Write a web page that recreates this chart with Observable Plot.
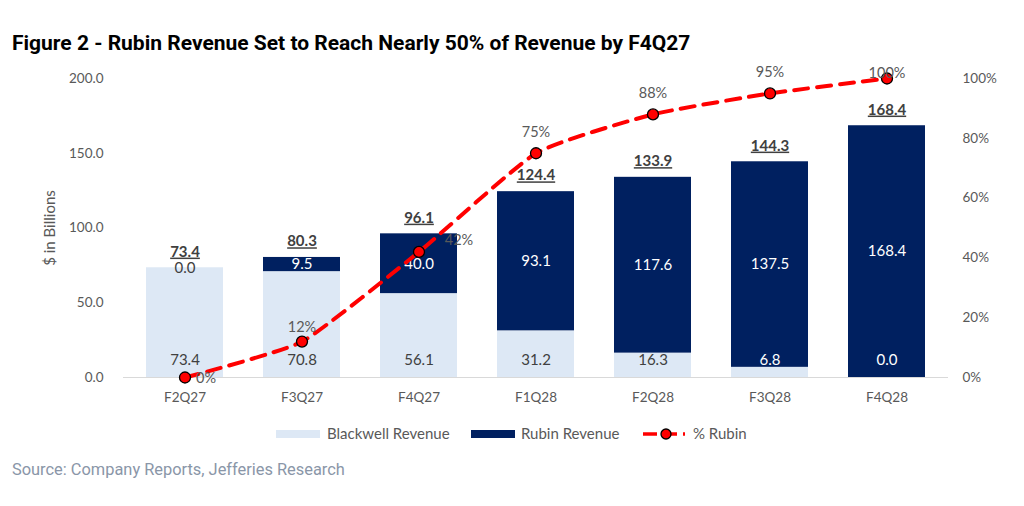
<!DOCTYPE html>
<html>
<head>
<meta charset="utf-8">
<script src="https://cdn.jsdelivr.net/npm/d3@7"></script>
<script src="https://cdn.jsdelivr.net/npm/@observablehq/plot@0.6"></script>
<style>
  body { margin: 0; width: 1024px; height: 506px; background: #fff; position: relative; overflow: hidden; font-family: Lato, "Open Sans", sans-serif; }
  #title { position: absolute; left: 12px; top: 31px; font-family: Roboto, sans-serif; font-weight: 700; font-size: 21px; color: #000; white-space: nowrap; }
  #chart { position: absolute; left: 0; top: 60px; }
  #legend { position: absolute; left: 0; top: 424px; width: 1024px; height: 20px; }
  #source { position: absolute; left: 12px; top: 460px; font-family: Roboto, sans-serif; font-size: 16.4px; color: #8a96a8; white-space: nowrap; }
  .totals text { text-decoration: underline; }
</style>
</head>
<body>
<div id="title">Figure 2 - Rubin Revenue Set to Reach Nearly 50% of Revenue by F4Q27</div>
<div id="chart"></div>
<div id="legend"></div>
<div id="source">Source: Company Reports, Jefferies Research</div>
<script>
const quarters = ["F2Q27", "F3Q27", "F4Q27", "F1Q28", "F2Q28", "F3Q28", "F4Q28"];
const blackwell = [73.4, 70.8, 56.1, 31.2, 16.3, 6.8, 0.0];
const rubin = [0.0, 9.5, 40.0, 93.1, 117.6, 137.5, 168.4];
const totals = [73.4, 80.3, 96.1, 124.4, 133.9, 144.3, 168.4];
const pctRubin = [0, 12, 42, 75, 88, 95, 100];
const leftTicks = [0, 50, 100, 150, 200];
const rightTicks = [0, 20, 40, 60, 80, 100];
const seriesNames = ["Blackwell Revenue", "Rubin Revenue", "% Rubin"];

const C_BW = "#dde8f5", C_RU = "#002060", C_TXT = "#404040", C_AX = "#595959", C_LINE = "#ff0000";

// stacked table
const stacked = [];
quarters.forEach((q, i) => {
  stacked.push({q, series: seriesNames[0], value: blackwell[i]});
  stacked.push({q, series: seriesNames[1], value: rubin[i]});
});
const pctData = quarters.map((q, i) => ({q, pct: pctRubin[i], y: pctRubin[i] * 2}));
// label placement per point (Excel-like)
const pctLabelPos = {"F2Q27": [21, 1], "F4Q27": [40, -12], "F3Q27": [0, -14], "F4Q28": [0, -5]};
const pctLabelData = pctData.map(d => {
  const p = pctLabelPos[d.q] || [0, -21];
  return {...d, dx: p[0], dy: p[1]};
});

const stackedY = Plot.stackY({x: "q", y: "value", fill: "series", order: seriesNames});
const blackwellRows = quarters.map((q, i) => ({q, value: blackwell[i]}));
const rubinRows = quarters.map((q, i) => ({q, value: rubin[i], mid: blackwell[i] + rubin[i] / 2}));
const totalRows = quarters.map((q, i) => ({q, value: totals[i]}));

const fmt1 = d3.format(".1f");

const chart = Plot.plot({
  width: 1024,
  height: 350,
  marginTop: 18,
  marginBottom: 33,
  marginLeft: 123,
  marginRight: 76,
  style: {fontFamily: "Lato, 'Open Sans', sans-serif", fontSize: "13px", color: C_AX, background: "white"},
  x: {domain: quarters, paddingInner: 0.34, paddingOuter: 0.17, label: null},
  y: {domain: [0, 200], label: null},
  color: {domain: seriesNames.slice(0, 2), range: [C_BW, C_RU]},
  marks: [
    Plot.barY(stacked, stackedY),
    Plot.ruleY([0], {stroke: "#d9d9d9", strokeWidth: 1.2}),
    // Blackwell labels (inside base)
    Plot.text(blackwellRows, {x: "q", y: 0, text: d => fmt1(d.value), dy: -17,
      fill: d => d.value < 10 ? "white" : C_TXT, fontSize: 15}),
    // Rubin labels (centered)
    Plot.text(rubinRows, {x: "q", y: "mid", text: d => fmt1(d.value),
      fill: d => d.value === 0 ? C_TXT : "white", fontSize: 15}),
    // totals
    Plot.text(totalRows, {x: "q", y: "value", text: d => fmt1(d.value), dy: -16,
      fill: C_TXT, fontWeight: "bold", fontSize: 15, className: "totals"}),
    // % Rubin line
    Plot.line(pctData, {x: "q", y: "y", stroke: C_LINE, strokeWidth: 4, strokeDasharray: "14,9", curve: "cardinal", tension: 0.5}),
    Plot.dot(pctData, {x: "q", y: "y", r: 5.5, fill: C_LINE, stroke: "black", strokeWidth: 1.3}),
    ...pctLabelData.map(d => Plot.text([d], {x: "q", y: "y", text: dd => dd.pct + "%", dx: d.dx, dy: d.dy,
      fill: C_AX, fontSize: 14.5})),
    // axes
    Plot.axisX({tickSize: 0, tickPadding: 15, fontSize: 13.5, fill: C_AX, label: null}),
    Plot.axisY({ticks: leftTicks, tickFormat: fmt1, tickSize: 0, tickPadding: 20, fontSize: 13.5, fill: C_AX, label: null}),
    Plot.axisY({anchor: "right", ticks: rightTicks.map(t => t * 2), tickFormat: d => (d / 2) + "%", tickSize: 0, tickPadding: 14, fontSize: 13.5, fill: C_AX, label: null}),
    Plot.text(["$ in Billions"], {frameAnchor: "left", textAnchor: "middle", dx: -73, rotate: -90, fill: C_AX, fontSize: 15})
  ]
});
document.getElementById("chart").appendChild(chart);

// legend
const lg = d3.select("#legend").append("svg").attr("width", 1024).attr("height", 20);
const ly = 10;
lg.append("rect").attr("x", 276).attr("y", ly - 4).attr("width", 44).attr("height", 8).attr("fill", C_BW);
lg.append("text").attr("x", 327).attr("y", ly).attr("dy", "0.35em").text(seriesNames[0]);
lg.append("rect").attr("x", 471).attr("y", ly - 4).attr("width", 44).attr("height", 8).attr("fill", C_RU);
lg.append("text").attr("x", 521).attr("y", ly).attr("dy", "0.35em").text(seriesNames[1]);
lg.append("line").attr("x1", 643).attr("x2", 685).attr("y1", ly).attr("y2", ly).attr("stroke", C_LINE).attr("stroke-width", 3.5).attr("stroke-dasharray", "14,6");
lg.append("circle").attr("cx", 666).attr("cy", ly).attr("r", 5).attr("fill", C_LINE).attr("stroke", "black").attr("stroke-width", 1.3);
lg.append("text").attr("x", 693).attr("y", ly).attr("dy", "0.35em").text(seriesNames[2]);
lg.selectAll("text").attr("font-family", "Lato, 'Open Sans', sans-serif").attr("font-size", 15).attr("fill", C_AX);
</script>
</body>
</html>
